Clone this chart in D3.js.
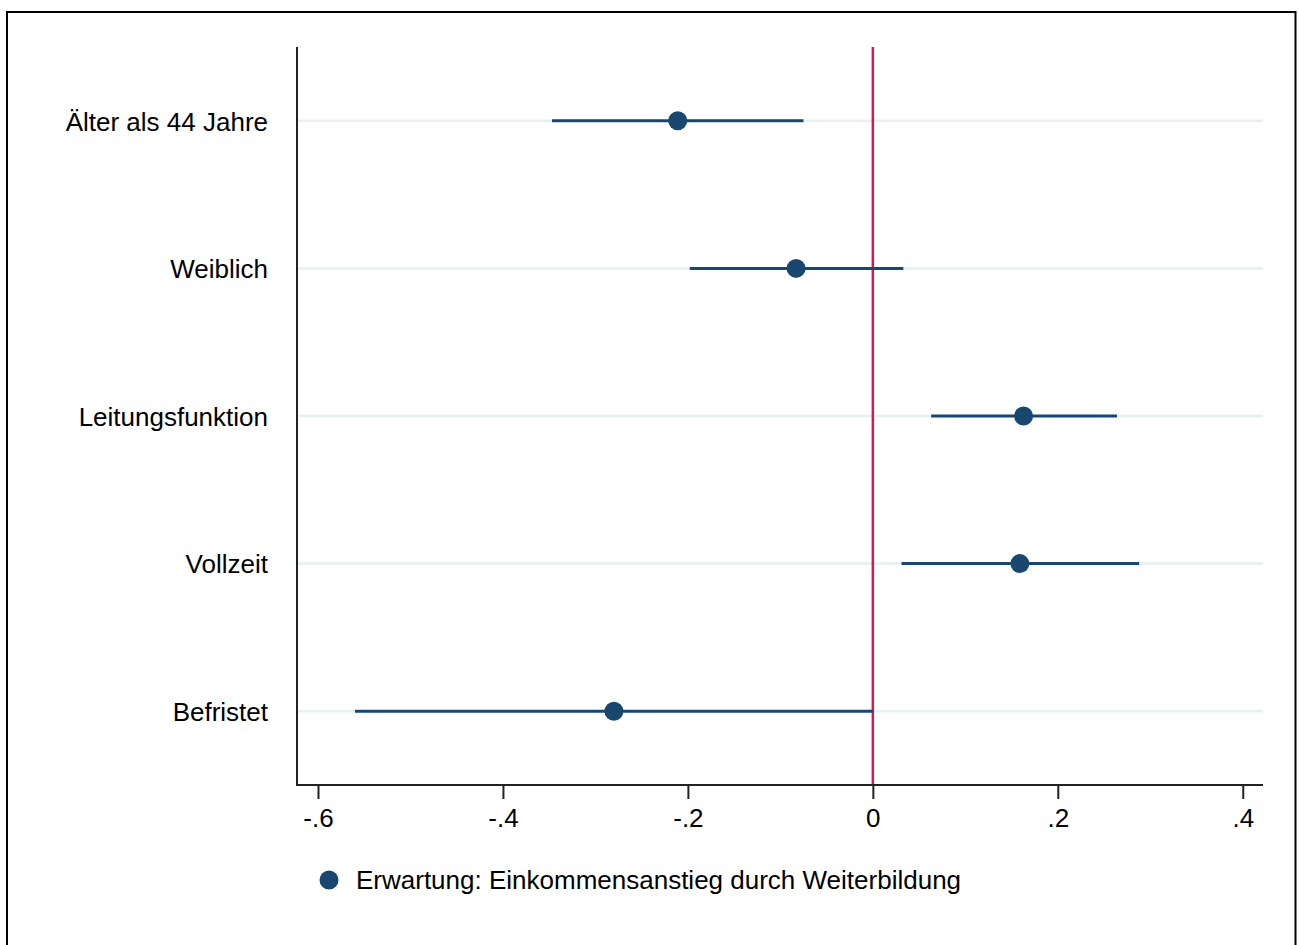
<!DOCTYPE html>
<html>
<head>
<meta charset="utf-8">
<script src="https://cdn.jsdelivr.net/npm/d3@7"></script>
<style>
  html, body { margin: 0; padding: 0; background: #fff; }
  svg { display: block; }
  text { font-family: "Liberation Sans", Arial, sans-serif; fill: #000; }
</style>
</head>
<body>
<svg id="chart" width="1299" height="945"></svg>
<script>
// Coefficients with 95% confidence intervals
const categories = ["Älter als 44 Jahre", "Weiblich", "Leitungsfunktion", "Vollzeit", "Befristet"];
const estimates  = [-0.211, -0.083, 0.163, 0.159, -0.280];
const lowerCI    = [-0.347, -0.198, 0.063, 0.031, -0.560];
const upperCI    = [-0.075,  0.033, 0.264, 0.288,  0.000];
const xTicks     = [-0.6, -0.4, -0.2, 0, 0.2, 0.4];
const legendLabel = "Erwartung: Einkommensanstieg durch Weiterbildung";

const navy = "#1a476f";
const fontSize = "26px";
const svg = d3.select("#chart");

// Outer frame
svg.append("rect")
  .attr("x", 7).attr("y", 12)
  .attr("width", 1288.5).attr("height", 960)
  .attr("fill", "none").attr("stroke", "#000").attr("stroke-width", 2);

const plot = { left: 297, right: 1263, top: 47, bottom: 785 };

const x = d3.scaleLinear().domain([-0.6227, 0.4219]).range([plot.left, plot.right]);
const y = d3.scaleLinear().domain([0.5, categories.length + 0.5]).range([plot.top, plot.bottom]);

const rows = categories.map((c, i) => ({
  name: c, pos: i + 1, est: estimates[i], lo: lowerCI[i], hi: upperCI[i]
}));

// Horizontal grid lines
svg.append("g").selectAll("line").data(rows).join("line")
  .attr("x1", plot.left).attr("x2", plot.right)
  .attr("y1", d => y(d.pos)).attr("y2", d => y(d.pos))
  .attr("stroke", "#e6eff1").attr("stroke-width", 2.5);

// Zero reference line
svg.append("line")
  .attr("x1", x(0)).attr("x2", x(0))
  .attr("y1", plot.top).attr("y2", plot.bottom)
  .attr("stroke", "#cc1c50").attr("stroke-width", 2.5);

// Confidence interval bars
svg.append("g").selectAll("line").data(rows).join("line")
  .attr("x1", d => x(d.lo)).attr("x2", d => x(d.hi))
  .attr("y1", d => y(d.pos)).attr("y2", d => y(d.pos))
  .attr("stroke", navy).attr("stroke-width", 3);

// Point estimates
svg.append("g").selectAll("circle").data(rows).join("circle")
  .attr("cx", d => x(d.est)).attr("cy", d => y(d.pos))
  .attr("r", 9.5).attr("fill", navy);

// Y axis with category labels
const yAxis = d3.axisLeft(y)
  .tickValues(rows.map(d => d.pos))
  .tickFormat(p => categories[p - 1])
  .tickSize(0).tickPadding(29);
const gy = svg.append("g").attr("transform", `translate(${plot.left},0)`).call(yAxis);
gy.select(".domain").remove();
gy.selectAll("text").style("font-size", fontSize).attr("dy", "0.36em");
svg.append("line")
  .attr("x1", plot.left).attr("x2", plot.left)
  .attr("y1", plot.top).attr("y2", plot.bottom + 1)
  .attr("stroke", "#222").attr("stroke-width", 2);

// X axis: Stata-style labels without a leading zero
const fmt = v => {
  if (v === 0) return "0";
  const s = Math.abs(v).toFixed(1).replace(/^0/, "");
  return (v < 0 ? "-" : "") + s;
};
const xAxis = d3.axisBottom(x).tickValues(xTicks).tickFormat(fmt).tickSize(14).tickPadding(10);
const gx = svg.append("g").attr("transform", `translate(0,${plot.bottom})`).call(xAxis);
gx.select(".domain").remove();
gx.selectAll(".tick line").attr("stroke", "#222").attr("stroke-width", 2);
gx.selectAll("text").style("font-size", fontSize);
svg.append("line")
  .attr("x1", plot.left - 1).attr("x2", plot.right)
  .attr("y1", plot.bottom).attr("y2", plot.bottom)
  .attr("stroke", "#222").attr("stroke-width", 2);

// Legend
const legend = svg.append("g").attr("transform", "translate(329,880)");
legend.append("circle").attr("r", 9.5).attr("fill", navy);
legend.append("text").attr("x", 27).attr("dy", "0.36em")
  .style("font-size", fontSize).text(legendLabel);
</script>
</body>
</html>
